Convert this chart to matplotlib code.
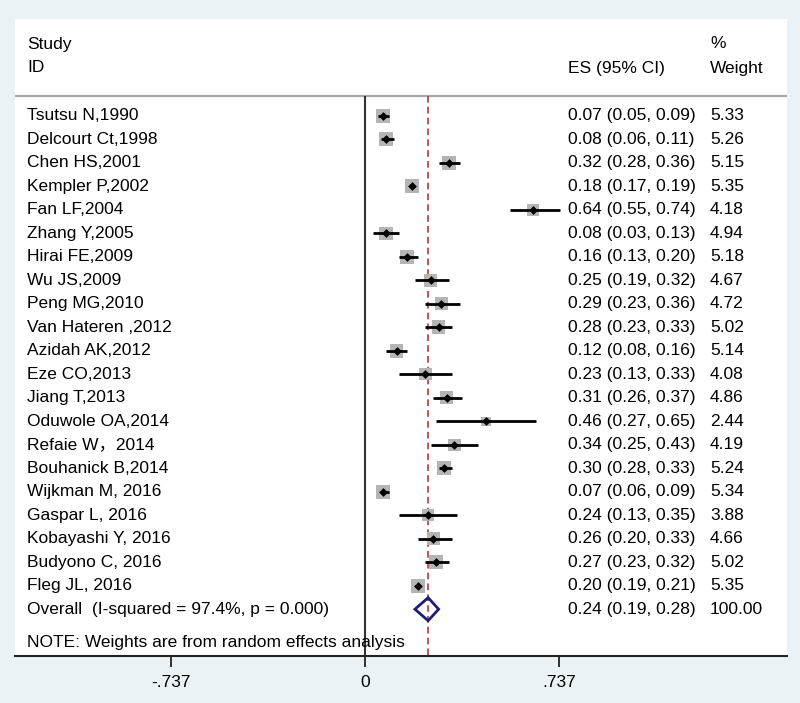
import matplotlib
matplotlib.use("Agg")
import matplotlib.pyplot as plt
import numpy as np

studies = ["Tsutsu N,1990", "Delcourt Ct,1998", "Chen HS,2001", "Kempler P,2002",
           "Fan LF,2004", "Zhang Y,2005", "Hirai FE,2009", "Wu JS,2009",
           "Peng MG,2010", "Van Hateren ,2012", "Azidah AK,2012", "Eze CO,2013",
           "Jiang T,2013", "Oduwole OA,2014", "Refaie W，2014", "Bouhanick B,2014",
           "Wijkman M, 2016", "Gaspar L, 2016", "Kobayashi Y, 2016", "Budyono C, 2016",
           "Fleg JL, 2016"]
es = [0.07, 0.08, 0.32, 0.18, 0.64, 0.08, 0.16, 0.25, 0.29, 0.28, 0.12,
      0.23, 0.31, 0.46, 0.34, 0.30, 0.07, 0.24, 0.26, 0.27, 0.20]
lo = [0.05, 0.06, 0.28, 0.17, 0.55, 0.03, 0.13, 0.19, 0.23, 0.23, 0.08,
      0.13, 0.26, 0.27, 0.25, 0.28, 0.06, 0.13, 0.20, 0.23, 0.19]
hi = [0.09, 0.11, 0.36, 0.19, 0.74, 0.13, 0.20, 0.32, 0.36, 0.33, 0.16,
      0.33, 0.37, 0.65, 0.43, 0.33, 0.09, 0.35, 0.33, 0.32, 0.21]
weights = [5.33, 5.26, 5.15, 5.35, 4.18, 4.94, 5.18, 4.67, 4.72, 5.02, 5.14,
           4.08, 4.86, 2.44, 4.19, 5.24, 5.34, 3.88, 4.66, 5.02, 5.35]

overall_label = "Overall  (I-squared = 97.4%, p = 0.000)"
overall = (0.24, 0.19, 0.28)
overall_weight = "100.00"
note = "NOTE: Weights are from random effects analysis"
xticks = [-0.737, 0, 0.737]
xticklabels = ["-.737", "0", ".737"]

plt.rcParams['font.family'] = ['Liberation Sans', 'Noto Sans CJK SC', 'DejaVu Sans']
fs = 12.5

bg = "#eaf2f6"
fig = plt.figure(figsize=(8, 7.03), dpi=100, facecolor=bg)
W, H = 800, 703
ax = fig.add_axes([15 / W, (H - 656) / H, 772 / W, (656 - 19) / H])
ax.set_facecolor("white")

# pixel layout -> data coordinates
x0, ppu = 365.0, 263.0
ax.set_xlim((15 - x0) / ppu, (787 - x0) / ppu)
y0, step = 115.7, 23.5
def row(py):
    return (py - y0) / step
ax.set_ylim(row(656), row(19))

n = len(studies)
rows = np.arange(n)
ov_row = n
sep = row(96)
bottom = row(656)

ax.hlines(sep, *ax.get_xlim(), color="#a8a8a8", lw=1.6, zorder=1)
ax.vlines(0, sep, bottom, color="#333333", lw=1.5, zorder=2)
ax.vlines(overall[0], sep, bottom, color="#b23a3a", lw=1.2,
          linestyles=(0, (4, 2.5)), zorder=2)

# boxes sized by weight
side = 10.0 * np.sqrt(np.array(weights) / 5.35)
ax.scatter(es, rows, s=side ** 2, marker="s", color="#b5b5b5", linewidths=0, zorder=3)
ax.hlines(rows, lo, hi, color="black", lw=2.0, zorder=4)
ax.scatter(es, rows, s=20, marker="D", color="black", linewidths=0, zorder=5)

# overall diamond
m, l, h = overall
dh = 0.49
ax.fill([l, m, h, m, l], [ov_row, ov_row - dh, ov_row, ov_row + dh, ov_row],
        facecolor="none", edgecolor="#1c1f7a", lw=2.0, zorder=6)

# text columns
xs = (27 - x0) / ppu
xe = (568 - x0) / ppu
xw = (710 - x0) / ppu
ax.text(xs, row(44), "Study", fontsize=fs, va="center")
ax.text(xs, row(68), "ID", fontsize=fs, va="center")
ax.text(xe, row(68), "ES (95% CI)", fontsize=fs, va="center")
ax.text(xw, row(44), "%", fontsize=fs, va="center")
ax.text(xw, row(68), "Weight", fontsize=fs, va="center")

for i in range(n):
    ax.text(xs, rows[i], studies[i], fontsize=fs, va="center")
    ax.text(xe, rows[i], "%.2f (%.2f, %.2f)" % (es[i], lo[i], hi[i]), fontsize=fs, va="center")
    ax.text(xw, rows[i], "%.2f" % weights[i], fontsize=fs, va="center")

ax.text(xs, ov_row, overall_label, fontsize=fs, va="center")
ax.text(xe, ov_row, "%.2f (%.2f, %.2f)" % overall, fontsize=fs, va="center")
ax.text(xw, ov_row, overall_weight, fontsize=fs, va="center")
ax.text(xs, row(643), note, fontsize=fs, va="center", zorder=7)

for s in ["top", "left", "right"]:
    ax.spines[s].set_visible(False)
ax.spines["bottom"].set_color("#222222")
ax.spines["bottom"].set_linewidth(1.5)
ax.set_yticks([])
ax.set_xticks(xticks)
ax.set_xticklabels(xticklabels, fontsize=fs)
ax.tick_params(axis="x", direction="out", length=8, width=1.3, pad=6, color="#222222")

fig.savefig("out.png", dpi=100, facecolor=bg)
